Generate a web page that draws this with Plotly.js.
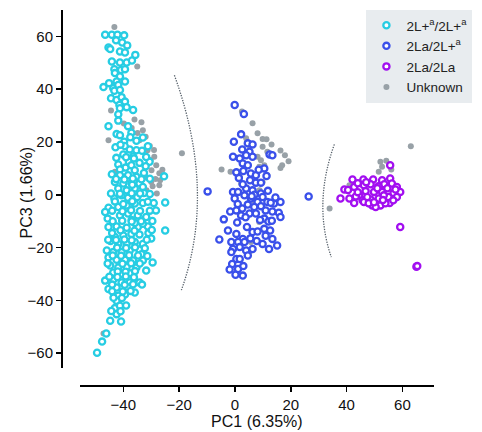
<!DOCTYPE html>
<html>
<head>
<meta charset="utf-8">
<script src="https://cdn.plot.ly/plotly-3.0.1.min.js"></script>
<style>html,body{margin:0;padding:0;background:#fff;}#chart{width:482px;height:432px;}</style>
</head>
<body>
<div id="chart"></div>
<script>
// ---- Data (PC1, PC3) ----
const cyanX = [-46.5,-44.1,-42.1,-39.7,-42.6,-40.4,-38.6,-45.3,-44.7,-41.2,-39.4,-35.7,-44.1,-41.2,-38.8,-36.9,-43.2,-40.8,-39.4,-43.0,-41.2,-39.4,-42.4,-45.1,-47.1,-43.6,-41.8,-43.2,-41.2,-44.4,-42.4,-40.6,-39.4,-41.4,-38.8,-36.5,-41.2,-41.8,-41.8,-45.3,-38.3,
 -42.4,-41.2,-37.1,-39.7,-33.0,-35.3,-31.2,-37.7,-35.3,-33.3,-40.0,-38.0,-41.8,-39.2,-37.1,-34.2,-30.6,-32.0,-41.2,-35.9,-44.1,-41.2,-38.3,-35.3,-32.6,-25.4,-43.0,-40.0,-37.1,-34.2,-41.8,-38.8,-35.9,-33.0,-43.2,-40.6,-38.3,-35.0,-32.6,-45.3,-46.5,-41.8,-38.8,-35.9,-33.0,-29.1,-28.3,-25.0,-41.2,-38.3,-34.8,-31.8,-45.3,-42.4,-38.8,-34.8,-31.2,-25.0,
 -35.9,-31.0,-43.0,-40.0,-37.1,-34.2,-41.8,-38.8,-35.9,-33.0,-45.9,-43.6,-40.6,-37.7,-34.2,-45.3,-42.4,-39.4,-36.5,-33.0,-29.5,-44.7,-41.8,-38.8,-35.3,-31.8,-43.6,-40.6,-37.7,-46.5,-43.6,-40.6,-37.7,-34.2,-45.3,-42.4,-38.3,-35.9,-41.8,-39.4,-42.4,-43.0,-42.4,-44.7,-40.8,-46.1,-47.6,-49.4,
 -45.6,-44.0,-33.5,-36.5,-39.5,-44.6,-37.0,-33.0,-30.0,-40.0,-36.8,-42.8,
 -41.0,-37.5,-42.5,-39.0,-36.2,-31.8,-42.6,-39.6,-36.6,-33.5,-30.5,-44.4,-41.2,-37.0,-34.0,-30.5,-43.0,-36.8,-31.2,
 -44.0,-40.3,-37.2,-34.0,-30.5,-43.8,-40.4,-37.0,-33.6,-29.6,-41.0,-36.0,-29.8,-45.4,-42.6,-39.6,-37.0,-31.6,
 -42.2,-39.0,-35.8,-32.3,-43.8,-40.8,-37.9,-34.7,-31.4,-45.6,-40.3,-37.2,-34.1,-42.0,-39.2,-35.8,
 -45.0,-42.1,-39.1,-36.2,-44.0,-39.5,-36.5,-33.3,-44.0,-40.2,-37.4,-43.5,-40.5,-41.2,-39.0,-44.3,-41.0];
const cyanY = [60.6,60.6,60.6,60.4,58.5,57.7,56.6,55.8,55.2,54.3,53.9,53.0,50.5,50.1,50.1,50.9,47.6,47.3,47.6,46.1,44.8,42.9,42.9,42.3,40.8,40.4,41.6,39.4,39.7,36.6,35.9,37.0,35.3,34.0,33.2,32.1,32.8,30.5,28.1,26.0,26.0,
 23.0,22.6,23.5,20.1,21.7,20.5,18.4,17.2,16.9,16.7,15.3,12.5,11.5,10.3,11.2,12.1,12.5,10.8,9.6,9.3,7.8,7.4,7.4,6.8,8.3,7.0,4.9,4.3,4.5,4.3,2.4,1.7,2.4,3.0,-1.4,-0.2,-1.1,-0.8,0.7,-4.9,-6.5,-4.6,-4.0,-3.3,-3.1,-3.1,-5.9,-2.9,-7.8,-7.1,-7.8,-8.4,-12.2,-12.0,-12.5,-12.2,-12.0,-13.5,
 -10.7,-14.5,-16.0,-15.4,-14.8,-15.0,-18.6,-18.6,-17.9,-18.6,-21.1,-21.7,-21.7,-21.1,-20.8,-23.7,-24.6,-24.6,-24.9,-24.9,-25.6,-26.8,-27.5,-27.2,-27.5,-28.7,-29.4,-30.0,-29.7,-32.5,-32.2,-33.2,-33.2,-33.2,-35.7,-35.1,-35.1,-37.0,-38.2,-37.8,-40.1,-42.9,-45.2,-47.7,-48.0,-52.5,-55.6,-59.8,
 -9.0,-14.5,-22.5,14.5,18.5,-17.5,-9.5,-11.0,-16.5,-3.5,3.8,18.0,
 19.0,21.8,14.0,14.2,13.8,14.3,6.0,5.8,6.2,5.9,6.1,0.5,0.4,0.6,0.5,0.3,-2.5,-2.4,-2.6,
 -6.0,-6.2,-5.8,-6.1,-6.0,-10.0,-9.8,-10.1,-10.0,-9.9,-13.4,-13.6,-13.3,-17.0,-17.1,-16.9,-17.2,-17.0,
 -20.0,-20.1,-19.9,-20.2,-23.0,-23.1,-22.9,-23.0,-23.2,-26.0,-26.1,-25.9,-26.0,-29.0,-29.1,-28.9,
 -31.0,-31.1,-30.9,-31.2,-34.0,-34.1,-33.9,-34.0,-36.5,-36.6,-36.4,-39.0,-39.1,-42.0,-41.9,-44.0,-44.1];

const blueX = [-0.1,3.2,2.2,-0.4,4.6,6.3,2.6,5.2,4.0,-0.7,1.7,6.3,12.4,13.4,2.8,4.6,10.5,5.7,7.5,11.3,1.4,5.4,7.5,9.3,-9.8,-0.7,1.1,4.0,6.3,9.3,-0.1,3.4,5.7,8.1,9.9,11.6,14.0,16.3,-1.7,0.5,2.6,4.6,6.9,9.3,11.0,13.4,15.7,2.2,5.2,7.5,-4.0,10.5,12.0,16.3,4.3,6.3,8.1,10.5,12.6,0.5,2.8,-5.6,-1.3,1.1,3.4,9.9,13.4,15.1,-0.7,1.7,4.0,6.3,12.2,-1.3,0.5,4.6,1.7,-1.0,1.1,-1.9,0.2,2.8,26.4,
 3.0,8.5,0.5,2.8,7.0,11.8,1.0,3.8,9.0,13.2,0.8,5.5,7.8,-2.5,11.0,3.0,6.0,12.8,14.5];
const blueY = [34.0,30.6,22.9,20.1,19.5,19.1,17.2,16.3,15.0,14.4,13.8,14.4,15.3,15.0,11.9,11.2,10.0,8.1,7.4,7.1,6.4,5.5,4.6,4.6,1.3,1.1,1.1,2.4,1.7,0.5,-1.4,-0.2,-1.4,-2.7,-0.8,-2.7,-3.3,-2.7,-6.3,-5.9,-5.2,-3.7,-4.6,-4.3,-5.9,-6.3,-6.8,-7.8,-7.1,-7.1,-9.3,-9.0,-10.1,-8.4,-12.2,-14.1,-13.9,-12.9,-13.5,-14.8,-16.7,-16.9,-17.9,-17.9,-17.9,-18.6,-16.7,-19.2,-20.5,-19.8,-21.1,-20.5,-20.5,-21.7,-24.3,-23.0,-24.3,-26.2,-28.1,-28.3,-30.3,-30.6,-0.6,
 9.0,9.5,8.5,4.0,0.0,1.5,-3.5,-8.5,-9.5,-9.8,-10.5,-16.5,-17.5,-13.5,-15.5,-27.0,-0.5,-3.0,-1.0];

const purpleX = [55.6,42.1,46.0,49.5,52.7,55.6,39.2,42.7,46.2,48.6,53.5,56.2,58.0,37.8,41.0,42.7,44.5,46.8,49.8,52.7,56.8,59.2,45.7,48.6,51.5,55.0,58.0,49.2,52.1,55.4,50.4,46.2,53.3,47.4,44.0,51.4,54.6,43.3,47.9,53.9,56.7,59.2,65.0,65.3,
 40.5,44.0,49.8,57.5,51.0,47.0,53.0];
const purpleY = [11.2,5.8,5.8,5.8,5.5,6.2,2.0,3.0,3.6,4.0,4.0,4.3,3.0,-1.4,-1.4,-3.1,-0.2,1.4,1.1,1.1,0.7,1.1,-2.1,-1.8,-1.4,-0.8,-0.8,-4.0,-4.0,-3.1,-4.6,-2.7,-0.2,-0.8,4.4,3.2,2.5,-0.6,-3.2,-3.2,-2.1,-12.2,-27.2,-27.0,
 1.8,1.0,-2.8,2.0,2.5,4.8,-2.0];

const unknownX = [-43.2,-35.0,-44.4,-39.8,-33.0,-45.3,-34.9,-34.2,-28.9,-19.0,-27.1,-30.0,-27.1,-29.9,-29.5,-43.0,-37.0,-31.3,-28.2,-31.7,-47.1,
 -32.0,-30.5,-29.0,-30.2,-28.5,-26.8,-31.5,-33.5,-36.0,-28.0,-26.0,
 2.5,6.3,8.1,9.9,11.3,13.1,9.9,11.6,16.3,17.9,19.2,16.9,16.3,-4.8,-1.6,4.0,5.2,8.1,9.3,10.5,8.7,11.6,1.7,2.2,9.9,8.7,5.7,5.2,3.2,6.7,8.8,
 63.0,52.1,54.2,52.7,51.5,56.0,41.0,33.9];
const unknownY = [63.6,48.6,31.9,27.0,24.5,20.7,23.4,20.7,14.4,15.7,8.2,4.9,3.6,9.3,3.2,8.7,25.3,16.9,11.2,1.7,-52.5,
 22.0,18.5,17.0,13.2,6.0,5.5,6.5,27.5,28.5,0.5,9.5,
 31.6,27.1,23.3,21.1,21.0,19.1,18.2,16.3,16.8,15.0,12.7,11.2,10.2,9.6,8.7,21.4,18.8,14.4,13.1,11.2,10.6,7.4,6.8,4.3,4.9,-10.3,-17.9,-21.7,-0.2,-2.1,1.7,
 18.4,12.5,12.9,10.6,8.7,9.6,3.6,-5.2];

const seriesNames = ["2L+<sup>a</sup>/2L+<sup>a</sup>", "2La/2L+<sup>a</sup>", "2La/2La", "Unknown"];
const xTickVals = [-40,-20,0,20,40,60];
const yTickVals = [-60,-40,-20,0,20,40,60];

// decorative dotted separators (start, bend, end) in data units
const arc1 = [[-21.7,45.3],[-6.55,1.2],[-19.2,-36.1]];
const arc2 = [[35.6,19.1],[27.95,-3.35],[34.5,-23.6]];

const FONT = "Liberation Sans, Arial, Helvetica, sans-serif";
function openTrace(x, y, name, color, rank) {
  return {x: x, y: y, name: name, type: "scatter", mode: "markers", legendrank: rank,
    marker: {symbol: "circle", size: 6.2, color: "#ffffff", line: {color: color, width: 2.3}},
    hoverinfo: "skip"};
}
const traces = [
  {x: unknownX, y: unknownY, name: seriesNames[3], type: "scatter", mode: "markers", legendrank: 4,
   marker: {symbol: "circle", size: 6, color: "#98a1a7"}, hoverinfo: "skip"},
  openTrace(cyanX, cyanY, seriesNames[0], "#27cde3", 1),
  openTrace(blueX, blueY, seriesNames[1], "#3a50ea", 2),
  openTrace(purpleX, purpleY, seriesNames[2], "#a20ff0", 3)
];
function qpath(a) { return "M" + a[0][0] + "," + a[0][1] + " Q" + a[1][0] + "," + a[1][1] + " " + a[2][0] + "," + a[2][1]; }
const arcLine = {color: "#56606a", width: 1.3, dash: "1.3px,1.3px"};
const layout = {
  width: 482, height: 432,
  margin: {l: 61, r: 43, t: 10, b: 47},
  paper_bgcolor: "#ffffff", plot_bgcolor: "#ffffff",
  font: {family: FONT, size: 15, color: "#111111"},
  showlegend: true,
  legend: {x: 1.103, xanchor: "right", y: 1, yanchor: "top", bgcolor: "#e8ecef", borderwidth: 0,
    font: {family: FONT, size: 13.5, color: "#222222"}, tracegroupgap: 0, itemwidth: 30},
  xaxis: {range: [-55.6, 71.3], domain: [0.0503, 1], anchor: "free", position: 0,
    tickvals: xTickVals, ticks: "outside", ticklen: 5, tickwidth: 1.5, tickcolor: "#000",
    showline: true, linecolor: "#000", linewidth: 1.5, showgrid: false, zeroline: false,
    tickfont: {size: 15}, title: {text: "PC1 (6.35%)", font: {size: 16}, standoff: 4}},
  yaxis: {range: [-65.6, 70.0], domain: [0.0453, 1], anchor: "free", position: 0,
    tickvals: yTickVals, ticks: "outside", ticklen: 5, tickwidth: 1.5, tickcolor: "#000",
    showline: true, linecolor: "#000", linewidth: 1.5, showgrid: false, zeroline: false,
    tickfont: {size: 15}, title: {text: ""}},
  annotations: [{text: "PC3 (1.66%)", textangle: -90, xref: "paper", yref: "paper",
    x: (27 - 61) / 378, y: (432 - 47 - 192) / 375, xanchor: "center", yanchor: "middle",
    showarrow: false, font: {size: 16, family: FONT, color: "#111111"}}],
  shapes: [
    {type: "path", xref: "x", yref: "y", path: qpath(arc1), line: arcLine},
    {type: "path", xref: "x", yref: "y", path: qpath(arc2), line: arcLine}
  ]
};
Plotly.newPlot("chart", traces, layout, {displayModeBar: false, staticPlot: true});
</script>
</body>
</html>
